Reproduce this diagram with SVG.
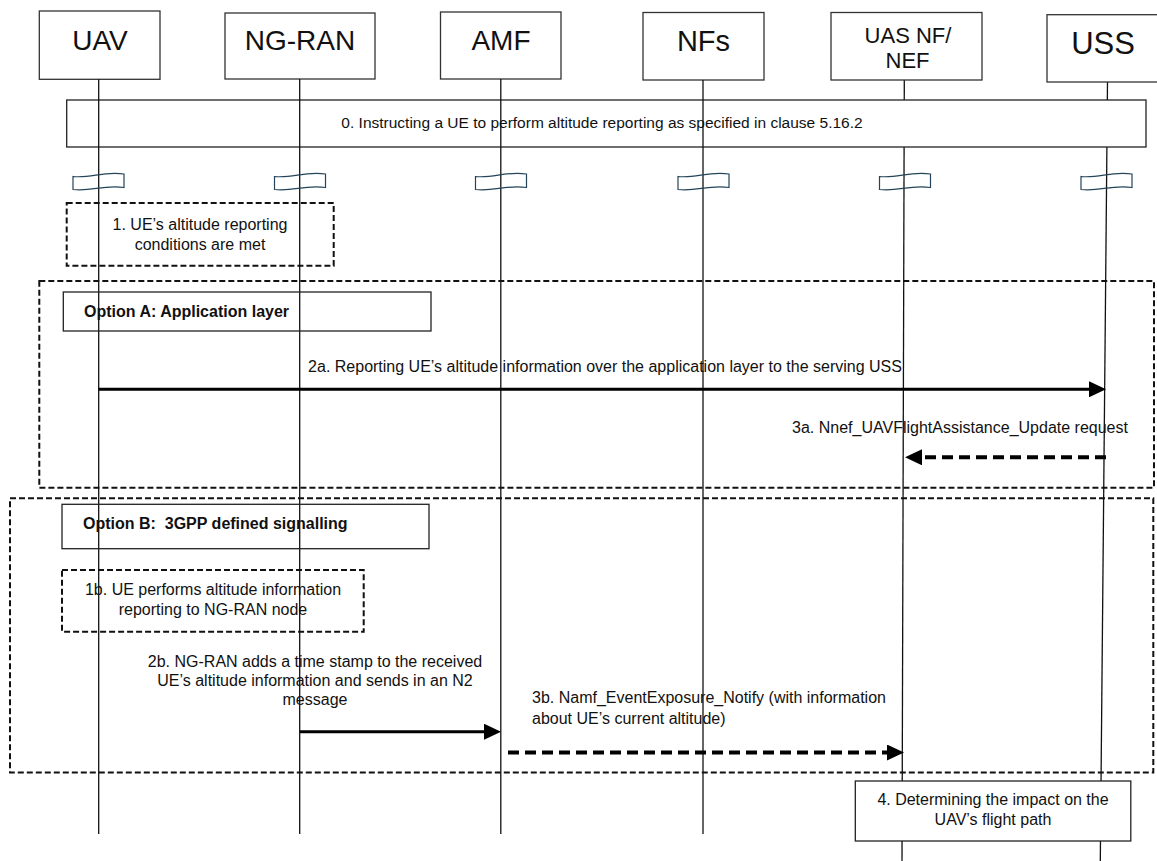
<svg xmlns="http://www.w3.org/2000/svg" width="1157" height="861" viewBox="0 0 1157 861">
<defs>
<style>
text { font-family: "Liberation Sans", Arial, Helvetica, sans-serif; fill: #111; }
.h28 { font-size: 28px; text-anchor: middle; }
.h22 { font-size: 22px; text-anchor: middle; }
.t16 { font-size: 16px; }
.mid { text-anchor: middle; }
.bold { font-weight: bold; }
.hdr { fill: #fff; stroke: #333; stroke-width: 1.3; }
.life { stroke: #111; stroke-width: 1.3; fill: none; }
.box { fill: #fff; stroke: #222; stroke-width: 1.3; }
.obox { fill: none; stroke: #222; stroke-width: 1.3; }
.dbox { fill: none; stroke: #111; stroke-width: 2; stroke-dasharray: 6 3; }
.wave { fill: none; stroke: #24445a; stroke-width: 1.2; }
.msg { stroke: #000; stroke-width: 3; fill: none; }
.dmsg { stroke: #000; stroke-width: 4; stroke-dasharray: 11 6; fill: none; }
</style>
<marker id="ah" markerUnits="userSpaceOnUse" viewBox="0 0 17 16" markerWidth="17" markerHeight="16" refX="1" refY="8" orient="auto"><path d="M0,0 L17,8 L0,16 Z" fill="#000"/></marker>
<path id="wv" d="M0,3.5 C18,5.5 30,-2 51,1 L51,14.5 C30,11.5 18,19 0,16.5 Z"/>
</defs>
<rect width="1157" height="861" fill="#fff"/>

<g id="lifelines-back">
<line class="life" x1="904.3" y1="80" x2="902" y2="861"/>
<line class="life" x1="1107.5" y1="82" x2="1100.3" y2="861"/>
</g>

<g id="step0">
<rect class="box" x="66.7" y="100" width="1079.3" height="47"/>
</g>
<g id="step4">
<rect class="box" x="855.3" y="781" width="275.5" height="60"/>
<text class="t16 mid" x="993" y="805">4. Determining the impact on the</text>
<text class="t16 mid" x="993" y="824.5">UAV’s flight path</text>
</g>

<g id="node-uav">
<rect class="hdr" x="39.3" y="11" width="120.7" height="68.3"/>
<text class="h28" x="100" y="50">UAV</text>
</g>
<g id="node-ngran">
<rect class="hdr" x="225" y="13" width="150" height="66"/>
<text class="h28" x="300" y="50">NG-RAN</text>
</g>
<g id="node-amf">
<rect class="hdr" x="440.5" y="12" width="120.5" height="67"/>
<text class="h28" x="501" y="50">AMF</text>
</g>
<g id="node-nfs">
<rect class="hdr" x="643" y="12.5" width="121" height="67.5"/>
<text class="h28" x="703.5" y="51" style="font-size:29px">NFs</text>
</g>
<g id="node-uasnf">
<rect class="hdr" x="831" y="12.5" width="151" height="67.5"/>
<text class="h22" x="908" y="43">UAS NF/</text>
<text class="h22" x="907.5" y="68">NEF</text>
</g>
<g id="node-uss">
<rect class="hdr" x="1047" y="14.7" width="115" height="67.3"/>
<text class="h28" x="1103" y="54" style="font-size:31px">USS</text>
</g>

<g id="lifelines-front">
<line class="life" x1="98.7" y1="79.3" x2="98.7" y2="834"/>
<line class="life" x1="299.7" y1="79" x2="299.7" y2="834"/>
<line class="life" x1="500.8" y1="79" x2="500.8" y2="834"/>
<line class="life" x1="703" y1="80" x2="703" y2="834"/>
</g>

<g id="step0-label">
<text class="mid" x="602" y="128" style="font-size:15.5px">0. Instructing a UE to perform altitude reporting as specified in clause 5.16.2</text>
</g>

<g id="breaks">
<use href="#wv" class="wave" x="73" y="173"/>
<use href="#wv" class="wave" x="274.5" y="173"/>
<use href="#wv" class="wave" x="475.5" y="173"/>
<use href="#wv" class="wave" x="678" y="173"/>
<use href="#wv" class="wave" x="879.5" y="173"/>
<use href="#wv" class="wave" x="1081" y="173"/>
</g>

<g id="step1">
<rect class="dbox" x="66.7" y="203" width="267" height="62.7"/>
<text class="t16 mid" x="200" y="230">1. UE’s altitude reporting</text>
<text class="t16 mid" x="200" y="249.5">conditions are met</text>
</g>

<g id="optionA">
<rect class="dbox" x="39.3" y="281" width="1114.7" height="206.7"/>
<rect class="obox" x="63.3" y="292" width="367.7" height="39"/>
<text class="t16 bold" x="84" y="317">Option A: Application layer</text>
</g>

<g id="optionB">
<rect class="dbox" x="10" y="498.3" width="1143.3" height="274.2"/>
<rect class="obox" x="62" y="504.3" width="367" height="44.4"/>
<text class="t16 bold" x="83" y="529.3" xml:space="preserve">Option B:  3GPP defined signalling</text>
</g>

<g id="step1b">
<rect class="dbox" x="62" y="570" width="301.7" height="61.7"/>
<text class="t16 mid" x="213" y="595">1b. UE performs altitude information</text>
<text class="t16 mid" x="213" y="615">reporting to NG-RAN node</text>
</g>

<g id="connectors">
<line class="msg" x1="98.7" y1="389.3" x2="1090" y2="389.3" marker-end="url(#ah)"/>
<text class="t16 mid" x="605" y="372">2a. Reporting UE’s altitude information over the application layer to the serving USS</text>
<line class="dmsg" x1="1106" y1="457.3" x2="921" y2="457.3" marker-end="url(#ah)"/>
<text class="t16 mid" x="960" y="433">3a. Nnef_UAVFlightAssistance_Update request</text>
<line class="msg" x1="300" y1="731.7" x2="485" y2="731.7" marker-end="url(#ah)"/>
<text class="t16 mid" x="315" y="667">2b. NG-RAN adds a time stamp to the received</text>
<text class="t16 mid" x="315" y="686">UE’s altitude information and sends in an N2</text>
<text class="t16 mid" x="315" y="705">message</text>
<line class="dmsg" x1="508" y1="752.5" x2="888" y2="752.5" marker-end="url(#ah)"/>
<text class="t16" x="532" y="703">3b. Namf_EventExposure_Notify (with information</text>
<text class="t16" x="532" y="724">about UE’s current altitude)</text>
</g>
</svg>
